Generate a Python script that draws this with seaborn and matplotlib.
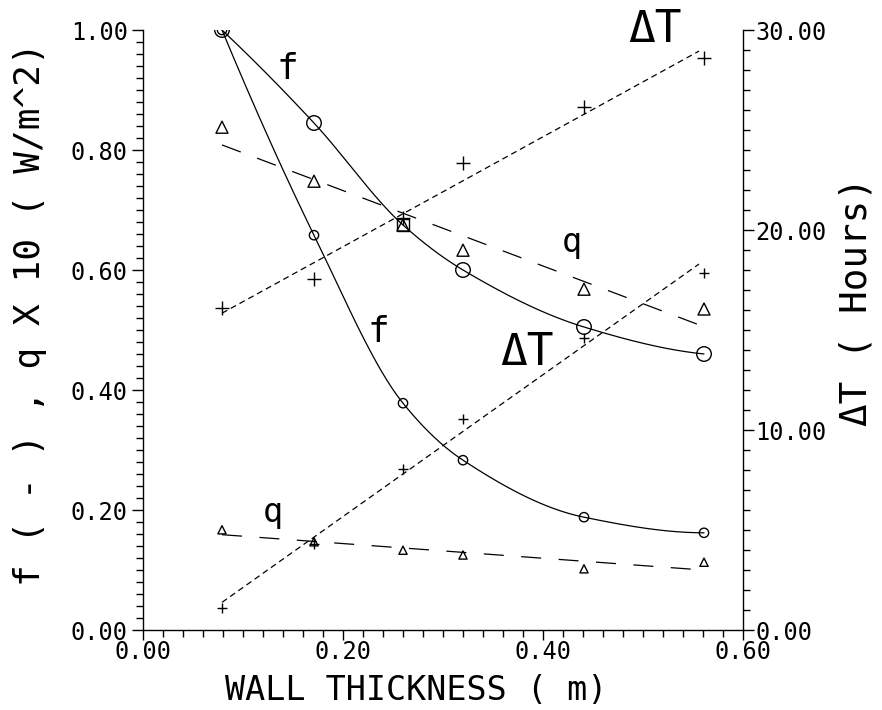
import numpy as np
import matplotlib
matplotlib.use("Agg")
import matplotlib.pyplot as plt
import seaborn as sns
from matplotlib.ticker import MultipleLocator, FormatStrFormatter

# ---- data ----
thickness = [0.079, 0.171, 0.260, 0.320, 0.441, 0.561]
f_upper = [1.000, 0.845, 0.675, 0.600, 0.505, 0.460]
f_lower = [1.000, 0.658, 0.378, 0.283, 0.188, 0.162]
q_upper = [0.838, 0.748, 0.675, 0.633, 0.568, 0.535]
q_lower = [0.167, 0.147, 0.133, 0.125, 0.102, 0.113]
dT_upper = [16.1, 17.55, 20.6, 23.35, 26.15, 28.6]
dT_lower = [1.1, 4.3, 8.05, 10.55, 14.6, 17.85]
x_ticks = [0.0, 0.2, 0.4, 0.6]
y_ticks = [0.0, 0.2, 0.4, 0.6, 0.8, 1.0]
y2_ticks = [0, 10, 20, 30]


def pchip(x, y, xs):
    x = np.asarray(x, float); y = np.asarray(y, float)
    n = len(x)
    h = np.diff(x); d = np.diff(y) / h
    m = np.zeros(n)
    for k in range(1, n - 1):
        if d[k - 1] * d[k] > 0:
            w1 = 2 * h[k] + h[k - 1]; w2 = h[k] + 2 * h[k - 1]
            m[k] = (w1 + w2) / (w1 / d[k - 1] + w2 / d[k])
    def end(h0, h1, d0, d1):
        v = ((2 * h0 + h1) * d0 - h0 * d1) / (h0 + h1)
        if np.sign(v) != np.sign(d0):
            v = 0.0
        elif np.sign(d0) != np.sign(d1) and abs(v) > abs(3 * d0):
            v = 3 * d0
        return v
    m[0] = end(h[0], h[1], d[0], d[1])
    m[-1] = end(h[-1], h[-2], d[-1], d[-2])
    out = np.empty_like(xs)
    for i, xv in enumerate(xs):
        k = min(max(np.searchsorted(x, xv) - 1, 0), n - 2)
        t = (xv - x[k]) / h[k]
        h00 = 2 * t**3 - 3 * t**2 + 1; h10 = t**3 - 2 * t**2 + t
        h01 = -2 * t**3 + 3 * t**2; h11 = t**3 - t**2
        out[i] = h00 * y[k] + h10 * h[k] * m[k] + h01 * y[k + 1] + h11 * h[k] * m[k + 1]
    return out


sns.set_style("ticks")
plt.rcParams['font.family'] = ['DejaVu Sans Mono', 'DejaVu Sans']
plt.rcParams['text.color'] = 'black'
plt.rcParams['axes.labelcolor'] = 'black'
plt.rcParams['xtick.color'] = 'black'
plt.rcParams['ytick.color'] = 'black'

fig = plt.figure(figsize=(8.82, 7.10), dpi=100)
ax = fig.add_axes([143 / 882, 80 / 710, 600 / 882, 600 / 710])
ax2 = ax.twinx()

xs = np.linspace(thickness[0], thickness[-1], 200)
lw = 0.9

# f curves (smooth, solid)
sns.lineplot(x=xs, y=pchip(thickness, f_upper, xs), ax=ax, color='black', lw=lw, sort=False, estimator=None)
sns.lineplot(x=xs, y=pchip(thickness, f_lower, xs), ax=ax, color='black', lw=lw, sort=False, estimator=None)

# q lines (linear fits, long dashes)
xl = np.array([thickness[0], thickness[-1]])
for qs in (q_upper, q_lower):
    c = np.polyfit(thickness, qs, 1)
    ax.plot(xl, np.polyval(c, xl), color='black', lw=lw, linestyle=(0, (16, 14)))

# dT lines (linear fits, short dashes) on right axis
xl2 = np.array([thickness[0], 0.556])
for ds in (dT_upper, dT_lower):
    c = np.polyfit(thickness, ds, 1)
    ax2.plot(xl2, np.polyval(c, xl2), color='black', lw=lw, linestyle=(0, (4.8, 3.2)))

# markers
mk = dict(facecolor='none', edgecolor='black', linewidth=1.0, legend=False)
up_f_x = [t for i, t in enumerate(thickness) if i != 2]
up_f_y = [v for i, v in enumerate(f_upper) if i != 2]
sns.scatterplot(x=up_f_x, y=up_f_y, ax=ax, marker='o', s=110, **mk)
sns.scatterplot(x=[thickness[2]], y=[f_upper[2]], ax=ax, marker='s', s=70, **mk)
sns.scatterplot(x=thickness, y=f_lower, ax=ax, marker='o', s=45, **mk)
sns.scatterplot(x=thickness, y=q_upper, ax=ax, marker='^', s=75, **mk)
sns.scatterplot(x=thickness, y=q_lower, ax=ax, marker='^', s=35, **mk)
ax2.scatter(thickness, dT_upper, marker='+', s=90, color='black', linewidths=1.0)
ax2.scatter(thickness, dT_lower, marker='+', s=50, color='black', linewidths=1.0)

# annotations
ax.text(0.144, 0.918, 'f', fontsize=26, ha='center', va='baseline')
ax.text(0.235, 0.480, 'f', fontsize=26, ha='center', va='baseline')
ax.text(0.429, 0.630, 'q', fontsize=24, ha='center', va='baseline')
ax.text(0.130, 0.180, 'q', fontsize=24, ha='center', va='baseline')
ax.text(0.512, 0.980, 'ΔT', fontsize=32, ha='center', va='baseline')
ax.text(0.384, 0.442, 'ΔT', fontsize=32, ha='center', va='baseline')

# axes and ticks
ax.set_xlim(0, 0.6); ax.set_ylim(0, 1.0)
ax2.set_ylim(0, 30)
ax.set_xticks(x_ticks); ax.set_yticks(y_ticks); ax2.set_yticks(y2_ticks)
ax.xaxis.set_minor_locator(MultipleLocator(0.02))
ax.yaxis.set_minor_locator(MultipleLocator(0.02))
ax2.yaxis.set_minor_locator(MultipleLocator(1))
ax.xaxis.set_major_formatter(FormatStrFormatter('%.2f'))
ax.yaxis.set_major_formatter(FormatStrFormatter('%.2f'))
ax2.yaxis.set_major_formatter(FormatStrFormatter('%.2f'))
for a in (ax, ax2):
    a.spines['top'].set_visible(False)
    for s in a.spines.values():
        s.set_linewidth(1.0)
        s.set_color('black')
ax.spines['right'].set_visible(False)
ax2.spines['left'].set_visible(False)
ax2.spines['bottom'].set_visible(False)
ax2.spines['right'].set_visible(True)
ax.tick_params(axis='y', which='major', direction='out', length=8, width=1, labelsize=17, pad=3)
ax.tick_params(axis='x', which='major', direction='out', length=7, width=1, labelsize=17, pad=0)
ax.tick_params(which='minor', direction='out', length=5, width=1)
ax2.tick_params(which='major', direction='out', length=8, width=1, labelsize=17, pad=1)
ax2.tick_params(which='minor', direction='out', length=5, width=1)
ax.set_xlabel(''); ax.set_ylabel(''); ax2.set_ylabel('')

fig.text(416 / 882, 1 - 690 / 710, 'WALL THICKNESS ( m)', fontsize=24, ha='center', va='center')
fig.text(30 / 882, 1 - 314 / 710, 'f ( - ) , q X 10 ( W/m^2)', fontsize=26, rotation=90, ha='center', va='center')
fig.text(856 / 882, 1 - 302 / 710, 'ΔT ( Hours)', fontsize=27, rotation=90, ha='center', va='center')

fig.savefig('out.png', dpi=100, facecolor='white')
